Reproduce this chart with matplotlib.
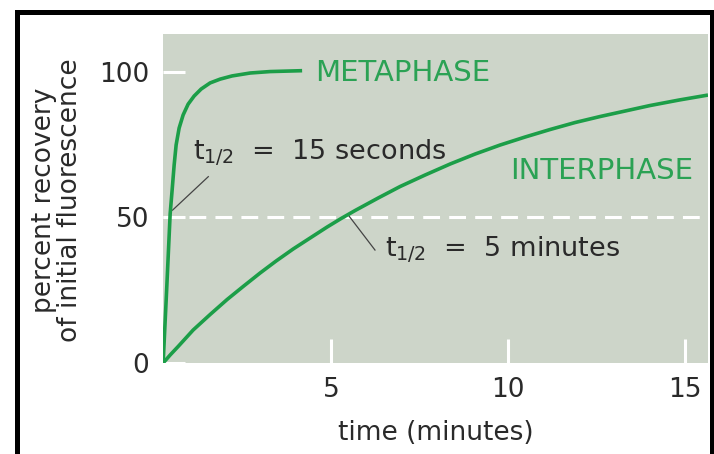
import matplotlib
matplotlib.use("Agg")
import matplotlib.pyplot as plt
from matplotlib.patches import Rectangle

# values (time in minutes, percent recovery)
meta_t = [0.254, 0.353, 0.452, 0.508, 0.565, 0.621, 0.706, 0.819, 0.960, 1.130,
          1.328, 1.582, 1.864, 2.203, 2.712, 3.277, 4.181]
meta_y = [0.0, 25.1, 51.2, 59.4, 68.0, 74.9, 80.7, 85.2, 88.9, 91.7,
          94.1, 96.2, 97.5, 98.6, 99.6, 100.1, 100.4]

inter_t = [0.254, 0.452, 0.678, 1.102, 1.582, 2.062, 2.514, 2.994, 3.446, 3.927,
           4.407, 4.887, 5.282, 5.678, 6.328, 6.949, 7.655, 8.362, 9.068, 9.774,
           10.480, 11.186, 11.893, 12.599, 13.305, 14.011, 14.831, 15.650]
inter_y = [0.0, 2.75, 5.67, 11.33, 16.66, 21.81, 26.27, 30.91, 35.03, 39.15,
           42.93, 46.70, 49.62, 52.37, 56.66, 60.61, 64.56, 68.34, 71.77, 74.86,
           77.61, 80.19, 82.59, 84.65, 86.54, 88.43, 90.32, 92.03]

x_ticks = [5, 10, 15]
y_ticks = [0, 50, 100]

bg = '#cdd5c9'
green = '#1c9e48'
text_green = '#2ba254'
dark = '#2a2a2a'

plt.rcParams['font.family'] = 'DejaVu Sans'

fig = plt.figure(figsize=(7.14, 4.54), dpi=100)
ax = fig.add_axes([163 / 714, 1 - 363 / 454, 545 / 714, 329 / 454])
ax.set_facecolor(bg)
for s in ax.spines.values():
    s.set_visible(False)

ax.set_xlim(0.25, 15.65)
ax.set_ylim(0, 113)

ax.axhline(50, color='white', lw=2.2, ls=(0, (5.5, 3)), zorder=1)

ax.plot(meta_t, meta_y, color=green, lw=2.6, solid_capstyle='butt', zorder=3)
ax.plot(inter_t, inter_y, color=green, lw=2.6, solid_capstyle='butt', zorder=3)

ax.set_xticks(x_ticks)
ax.set_yticks(y_ticks)
ax.tick_params(axis='x', direction='in', length=17, width=2.2, color='white',
               pad=10, labelsize=19, labelcolor=dark)
ax.tick_params(axis='y', direction='in', length=16, width=2.2, color='white',
               pad=10, labelsize=19, labelcolor=dark)

# labels on the curves
ax.text(4.55, 99.7, 'METAPHASE', color=text_green, fontsize=21, va='center', ha='left')
ax.text(10.06, 66, 'INTERPHASE', color=text_green, fontsize=21, va='center', ha='left')

ax.text(1.10, 72, r'$\mathregular{t_{1/2}}$  =  15 seconds', color=dark, fontsize=19.5,
        va='center', ha='left')
ax.plot([0.52, 1.53], [52.5, 64.0], color='#444444', lw=0.9, zorder=2)

ax.text(6.53, 38.5, r'$\mathregular{t_{1/2}}$  =  5 minutes', color=dark, fontsize=19.5,
        va='center', ha='left')
ax.plot([5.48, 6.24], [50.9, 38.8], color='#444444', lw=0.9, zorder=2)

ax.set_xlabel('time (minutes)', fontsize=19, color=dark, labelpad=12)
fig.text(57 / 714, 1 - 200 / 454, 'percent recovery\nof initial fluorescence',
         rotation=90, fontsize=19, color=dark, ha='center', va='center', linespacing=1.0)

# black frame round the figure
fig.patches.append(Rectangle((16.5 / 714, -0.1), 695 / 714, 1.1 - 12.5 / 454,
                             transform=fig.transFigure, fill=False,
                             edgecolor='black', lw=3.6))

fig.savefig('out.png', dpi=100)
